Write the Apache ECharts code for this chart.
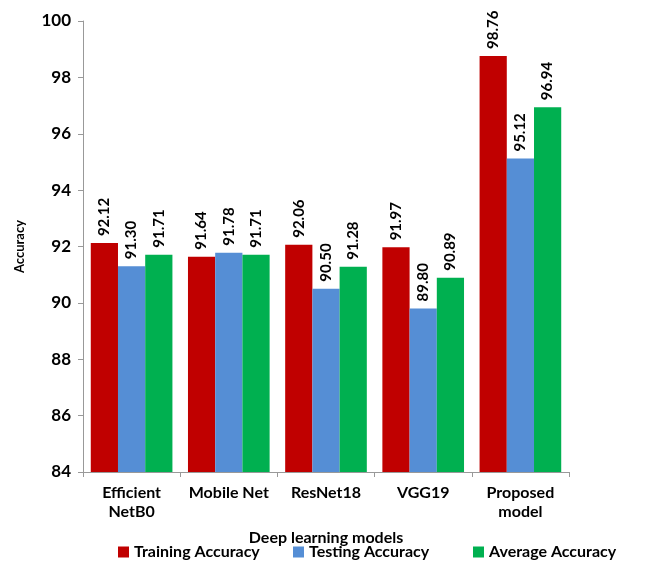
<!DOCTYPE html>
<html>
<head>
<meta charset="utf-8">
<script src="https://cdn.jsdelivr.net/npm/echarts@6/dist/echarts.min.js"></script>
<style>
  html, body { margin: 0; padding: 0; background: #fff; }
  #main { width: 662px; height: 562px; }
</style>
</head>
<body>
<div id="main"></div>
<script>
// data
var models = ['Efficient\nNetB0', 'Mobile Net', 'ResNet18', 'VGG19', 'Proposed\nmodel'];
var trainAcc = [92.12, 91.64, 92.06, 91.97, 98.76];
var testAcc = [91.30, 91.78, 90.50, 89.80, 95.12];
var avgAcc = [91.71, 91.71, 91.28, 90.89, 96.94];
var seriesNames = ['Training Accuracy', 'Testing Accuracy', 'Average Accuracy'];
var colors = ['#C00000', '#558ED5', '#00B050'];
var legendLeft = [113, 288, 468];

var chart = echarts.init(document.getElementById('main'));
var fontFam = 'Lato, "Liberation Sans", sans-serif';

// 数据标签：竖排，保留两位小数
var barLabel = {
    show: true,
    position: 'top',
    rotate: 90,
    align: 'left',
    verticalAlign: 'middle',
    distance: 7,
    color: '#000',
    fontWeight: 'bold',
    fontSize: 15,
    fontFamily: fontFam,
    formatter: function (p) { return p.value.toFixed(2); }
};

function makeSeries(name, data, color) {
    return {
        name: name,
        type: 'bar',
        data: data,
        barGap: '0%',
        barCategoryGap: '16%',
        itemStyle: { color: color },
        label: barLabel
    };
}

// 图例分开放，位置跟原图一致
var legends = seriesNames.map(function (n, i) {
    return {
        top: 539,
        left: legendLeft[i],
        itemWidth: 11,
        itemHeight: 11,
        itemGap: 6,
        icon: 'rect',
        data: [n],
        textStyle: { color: '#000', fontWeight: 'bold', fontSize: 16, fontFamily: fontFam }
    };
});

var option = {
    animation: false,
    grid: { left: 83, right: 93, top: 21, bottom: 90 },
    legend: legends,
    xAxis: {
        type: 'category',
        data: models,
        name: 'Deep learning models',
        nameLocation: 'middle',
        nameGap: 58,
        nameTextStyle: { color: '#000', fontWeight: 'bold', fontSize: 16, fontFamily: fontFam },
        axisLine: { lineStyle: { color: '#999' } },
        axisTick: { show: true, length: 5, lineStyle: { color: '#999' } },
        axisLabel: { interval: 0, color: '#000', fontWeight: 'bold', fontSize: 16, fontFamily: fontFam, margin: 11, lineHeight: 19 }
    },
    yAxis: {
        type: 'value',
        min: 84,
        max: 100,
        interval: 2,
        name: 'Accuracy',
        nameLocation: 'middle',
        nameGap: 57,
        nameRotate: 90,
        nameTextStyle: { color: '#000', fontWeight: 'bold', fontSize: 13, fontFamily: fontFam },
        axisLine: { show: true, lineStyle: { color: '#999' } },
        axisTick: { show: true, length: 5, lineStyle: { color: '#999' } },
        splitLine: { show: false },
        axisLabel: { color: '#000', fontWeight: 'bold', fontSize: 17, fontFamily: fontFam, margin: 12 }
    },
    series: [
        makeSeries(seriesNames[0], trainAcc, colors[0]),
        makeSeries(seriesNames[1], testAcc, colors[1]),
        makeSeries(seriesNames[2], avgAcc, colors[2])
    ]
};

chart.setOption(option);
</script>
</body>
</html>
